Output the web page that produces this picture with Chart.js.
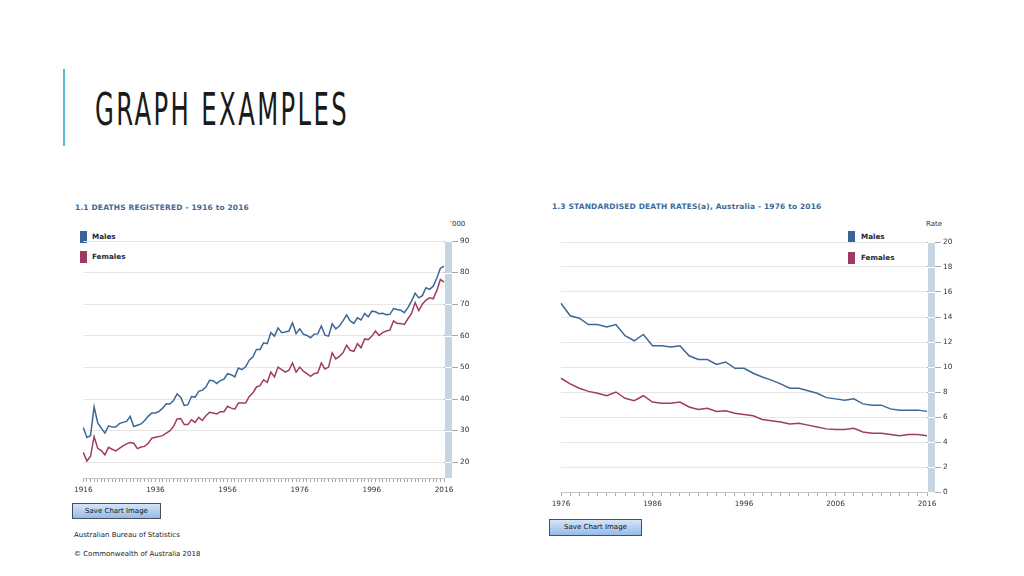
<!DOCTYPE html>
<html>
<head>
<meta charset="utf-8">
<script src="https://cdn.jsdelivr.net/npm/chart.js@4.4.1/dist/chart.umd.min.js"></script>
<style>
  html, body { margin: 0; padding: 0; background: #fff; }
  body { width: 1024px; height: 576px; position: relative; overflow: hidden; font-family: "DejaVu Sans", Verdana, sans-serif; }
  .abs { position: absolute; }
  #accent { left: 63px; top: 69px; width: 2px; height: 77px; background: #5bbcd1; }
  #slideTitle { left: 95px; top: 87px; font-family: "Liberation Sans Narrow", "DejaVu Sans Condensed", sans-serif; font-size: 45px; line-height: 45px; letter-spacing: 4px; color: #1a1a1a; white-space: nowrap; transform-origin: 0 0; }
  .ctitle { font-size: 7.5px; font-weight: bold; color: #3d6a98; white-space: nowrap; letter-spacing: 0.15px; }
  .unit { font-size: 7px; color: #333; }
  .lg { font-size: 7.2px; font-weight: bold; color: #1e2a36; white-space: nowrap; }
  .sw { position: absolute; width: 7px; height: 12px; }
  .btn { font-size: 7px; color: #111; text-align: center; border: 1px solid #4a4f58; background: linear-gradient(#d4e5f8, #95bbe8); box-sizing: border-box; }
  .foot { font-size: 7px; color: #222; white-space: nowrap; }
  canvas { display: block; }
</style>
</head>
<body>
<div id="accent" class="abs"></div>
<div id="slideTitle" class="abs">GRAPH EXAMPLES</div>

<!-- chart 1.1 -->
<div class="abs ctitle" style="left:75px; top:203px;">1.1 DEATHS REGISTERED - 1916 to 2016</div>
<div class="abs unit" style="left:450px; top:220px;">'000</div>
<div class="sw" style="left:80px; top:231px; background:#38649a;"></div>
<div class="abs lg" style="left:92px; top:232px;">Males</div>
<div class="sw" style="left:80px; top:251px; background:#9c3a62;"></div>
<div class="abs lg" style="left:92px; top:252px;">Females</div>
<div class="abs" style="left:70px; top:230px; width:420px; height:275px;"><canvas id="deathsChart"></canvas></div>
<div class="abs btn" style="left:72px; top:503px; width:89px; height:16px; line-height:14px;">Save Chart Image</div>
<div class="abs foot" style="left:74px; top:531px;">Australian Bureau of Statistics</div>
<div class="abs" style="left:74px; top:550px; height:8px; overflow:hidden;"><div class="foot">© Commonwealth of Australia 2018</div></div>

<!-- chart 1.3 -->
<div class="abs ctitle" style="left:552px; top:202px;">1.3 STANDARDISED DEATH RATES(a), Australia - 1976 to 2016</div>
<div class="abs unit" style="left:926px; top:220px;">Rate</div>
<div class="sw" style="left:848px; top:231px; background:#38649a;"></div>
<div class="abs lg" style="left:861px; top:232px;">Males</div>
<div class="sw" style="left:848px; top:252px; background:#9c3a62;"></div>
<div class="abs lg" style="left:861px; top:253px;">Females</div>
<div class="abs" style="left:545px; top:230px; width:420px; height:290px;"><canvas id="ratesChart"></canvas></div>
<div class="abs btn" style="left:549px; top:519px; width:93px; height:17px; line-height:15px;">Save Chart Image</div>

<script>
// --- data chart 1.1 (deaths registered, '000)
const deathYears = [];
for (let y = 1916; y <= 2016; y++) deathYears.push(y);
const maleDeaths = [
  31.0, 27.8, 28.4, 37.5, 32.4, 30.8, 29.2, 31.5, 31.1, 31.1,
  32.2, 32.6, 32.9, 34.5, 31.3, 31.7, 32.1, 33.2, 34.5, 35.6,
  35.6, 36.1, 37.1, 38.5, 38.4, 39.5, 41.6, 40.6, 37.9, 38.2,
  40.8, 40.6, 42.4, 42.8, 43.8, 45.9, 45.8, 44.9, 45.8, 46.3,
  48.0, 47.7, 47.0, 49.8, 49.3, 50.2, 52.3, 53.3, 55.7, 55.7,
  57.8, 57.5, 61.0, 59.9, 62.5, 61.0, 61.2, 61.5, 64.1, 60.7,
  62.2, 60.5, 60.1, 59.4, 60.5, 60.6, 63.1, 60.2, 59.9, 63.8,
  62.2, 63.1, 64.7, 66.6, 64.7, 63.9, 65.7, 65.0, 67.1, 66.0,
  67.8, 67.6, 67.0, 67.1, 66.7, 66.8, 68.6, 68.3, 68.1, 67.3,
  68.9, 71.0, 73.5, 72.0, 72.7, 75.2, 74.7, 75.7, 78.2, 81.4,
  82.0
];
const femaleDeaths = [
  23.1, 20.4, 21.8, 28.1, 24.4, 23.7, 22.3, 24.7, 24.1, 23.6,
  24.4, 25.2, 25.8, 26.2, 26.0, 24.3, 24.8, 25.0, 26.0, 27.6,
  27.9, 28.1, 28.4, 29.2, 29.9, 31.3, 33.7, 33.8, 31.9, 31.9,
  33.4, 32.6, 34.2, 33.2, 34.7, 35.8, 35.6, 35.3, 36.0, 36.0,
  37.7, 37.1, 36.8, 38.7, 38.7, 38.7, 40.8, 41.9, 43.8, 44.2,
  46.1, 45.3, 48.5, 47.0, 50.1, 49.3, 48.5, 49.1, 51.4, 48.5,
  50.1, 48.8, 48.0, 47.2, 48.0, 48.3, 51.4, 49.5, 50.1, 54.6,
  52.7, 53.5, 54.6, 57.0, 55.4, 55.1, 57.5, 56.2, 59.0, 58.8,
  59.9, 61.5, 60.1, 61.0, 61.5, 61.8, 64.7, 63.9, 63.9, 63.6,
  65.4, 67.1, 70.5, 68.0, 70.0, 71.3, 72.0, 71.7, 74.3, 77.8,
  77.0
];
const deathTicks = [20, 30, 40, 50, 60, 70, 80, 90];

// --- data chart 1.3 (standardised death rates)
const rateYears = [];
for (let y = 1976; y <= 2016; y++) rateYears.push(y);
const maleRates = [
  15.1, 14.1, 13.9, 13.4, 13.4, 13.2, 13.4, 12.5, 12.1, 12.6,
  11.7, 11.7, 11.6, 11.7, 10.9, 10.6, 10.6, 10.2, 10.4, 9.9,
  9.9, 9.5, 9.2, 8.95, 8.65, 8.3, 8.3, 8.1, 7.9, 7.55,
  7.45, 7.35, 7.45, 7.05, 6.95, 6.95, 6.65, 6.55, 6.55, 6.55,
  6.45
];
const femaleRates = [
  9.1, 8.65, 8.3, 8.05, 7.9, 7.7, 8.0, 7.5, 7.3, 7.7,
  7.2, 7.1, 7.1, 7.2, 6.8, 6.6, 6.7, 6.45, 6.5, 6.3,
  6.2, 6.1, 5.8, 5.7, 5.6, 5.45, 5.5, 5.35, 5.2, 5.05,
  5.0, 5.0, 5.1, 4.8, 4.7, 4.7, 4.6, 4.5, 4.6, 4.6,
  4.5
];
const rateTicks = [0, 2, 4, 6, 8, 10, 12, 14, 16, 18, 20];

const MALE = '#3d6797';
const FEMALE = '#a03c64';
const TICK_FONT = { family: '"DejaVu Sans", Verdana, sans-serif', size: 7.3 };

// --- grey bar next to the value axis, with little white cuts at each tick
const sideBarPlugin = {
  id: 'sideBar',
  afterDraw(chart) {
    const { ctx, chartArea } = chart;
    const ys = chart.scales.y;
    ctx.save();
    ctx.fillStyle = '#c7d5e2';
    ctx.fillRect(chartArea.right + 1, chartArea.top, 7, chartArea.bottom - chartArea.top);
    ctx.fillStyle = '#ffffff';
    ys.ticks.forEach(t => {
      const py = Math.round(ys.getPixelForValue(t.value));
      ctx.fillRect(chartArea.right + 1, py, 7, 1);
    });
    ctx.restore();
  }
};

function lineChart(id, years, males, females, yMin, yMax, yTicks, every, pad, yWidth) {
  const ctx = document.getElementById(id).getContext('2d');
  return new Chart(ctx, {
    type: 'line',
    data: {
      labels: years,
      datasets: [
        { label: 'Males', data: males, borderColor: MALE, borderWidth: 1.5, pointRadius: 0, tension: 0 },
        { label: 'Females', data: females, borderColor: FEMALE, borderWidth: 1.5, pointRadius: 0, tension: 0 }
      ]
    },
    options: {
      responsive: true, maintainAspectRatio: false, animation: false,
      layout: { padding: pad },
      plugins: { legend: { display: false }, tooltip: { enabled: false } },
      scales: {
        x: {
          offset: false,
          grid: { display: true, drawOnChartArea: false, tickLength: 4, tickColor: '#a8a8a8', offset: false },
          border: { display: true, color: '#c4c4c4' },
          ticks: {
            autoSkip: false, maxRotation: 0, minRotation: 0, padding: 4,
            font: TICK_FONT, color: '#333',
            callback: (v, i) => ((years[i] - years[0]) % every === 0 ? String(years[i]) : '')
          },
          afterFit: s => { s.height = 22; }
        },
        y: {
          position: 'right', min: yMin, max: yMax,
          grid: { color: '#e6e6e6', tickLength: 14, tickColor: '#a8a8a8' },
          border: { display: false },
          ticks: { font: TICK_FONT, color: '#333', padding: 2 },
          afterBuildTicks: s => { s.ticks = yTicks.map(v => ({ value: v })); },
          afterFit: s => { s.width = yWidth; }
        }
      }
    },
    plugins: [sideBarPlugin]
  });
}

window.addEventListener('load', () => {
  // squeeze the slide heading into its narrow look
  const t = document.getElementById('slideTitle');
  t.style.transform = 'scaleX(' + (254 / t.offsetWidth) + ')';

  lineChart('deathsChart', deathYears, maleDeaths, femaleDeaths, 15, 90, deathTicks, 20,
    { left: 13, top: 11, right: 0, bottom: 5 }, 46);
  lineChart('ratesChart', rateYears, maleRates, femaleRates, 0, 20, rateTicks, 10,
    { left: 16, top: 12, right: 0, bottom: 6 }, 38);
});
</script>
</body>
</html>
